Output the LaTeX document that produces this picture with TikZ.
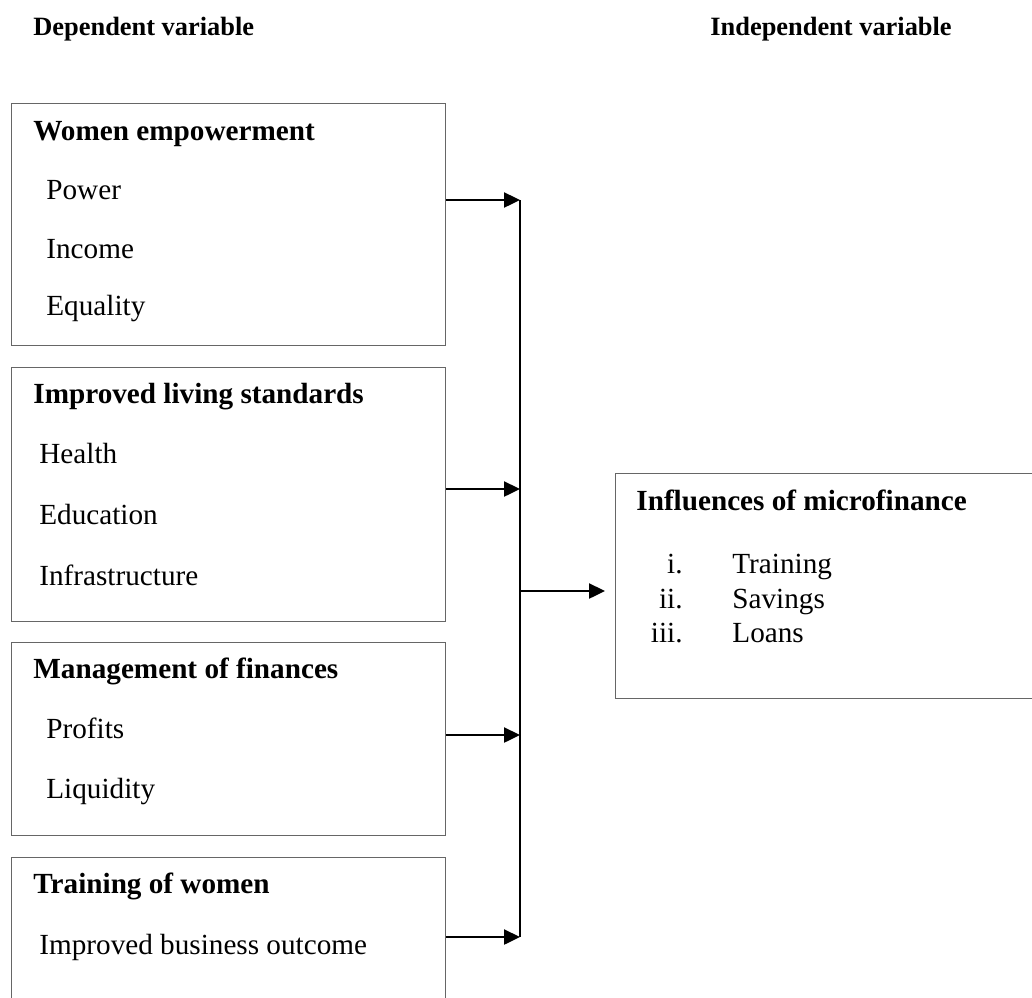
\documentclass[tikz,border=0pt]{standalone}
\usepackage{fontspec}
\setmainfont{Liberation Serif}
\usetikzlibrary{arrows.meta}
\begin{document}
\begin{tikzpicture}[x=0.5pt,y=-0.5pt,
 box/.style={draw=black!60, line width=0.7pt, rectangle, anchor=north west, inner sep=0pt},
 lbl/.style={anchor=base west, inner sep=0pt, font=\fontsize{14.6}{17}\selectfont},
 num/.style={anchor=base east, inner sep=0pt, font=\fontsize{14.6}{17}\selectfont},
 ttl/.style={anchor=base west, inner sep=0pt, font=\fontsize{14.6}{17}\selectfont\bfseries},
 hdr/.style={anchor=base west, inner sep=0pt, font=\fontsize{13.2}{16}\selectfont\bfseries},
 conn/.style={line width=1.2pt, black},
 arr/.style={conn, -{Triangle[length=8pt,width=7.5pt]}}]
\useasboundingbox (0,0) rectangle (1032,997);
\clip (0,0) rectangle (1032,997);
% headers
\node[hdr] (h1) at (33,35) {Dependent variable};
\node[hdr] (h2) at (710,35) {Independent variable};
% boxes
\node[box, minimum width=217pt, minimum height=121pt] (b1) at (11,103) {};
\node[box, minimum width=217pt, minimum height=127pt] (b2) at (11,367) {};
\node[box, minimum width=217pt, minimum height=96.5pt] (b3) at (11,642) {};
\node[box, minimum width=217pt, minimum height=95pt] (b4) at (11,857) {};
\node[box, minimum width=215pt, minimum height=112.5pt] (r) at (615,473) {};
% box 1
\node[ttl] (t1) at (33,140) {Women empowerment};
\node[lbl] (t1a) at (46,199) {Power};
\node[lbl] (t1b) at (46,258) {Income};
\node[lbl] (t1c) at (46,315) {Equality};
% box 2
\node[ttl] (t2) at (33,403) {Improved living standards};
\node[lbl] (t2a) at (39,463) {Health};
\node[lbl] (t2b) at (39,524) {Education};
\node[lbl] (t2c) at (39,585) {Infrastructure};
% box 3
\node[ttl] (t3) at (33,678) {Management of finances};
\node[lbl] (t3a) at (46,738) {Profits};
\node[lbl] (t3b) at (46,798) {Liquidity};
% box 4
\node[ttl] (t4) at (33,893) {Training of women};
\node[lbl] (t4a) at (39,954) {Improved business outcome};
% right box
\node[ttl] (rt) at (636,510) {Influences of microfinance};
\node[num] (n1) at (683,573) {i.};
\node[lbl] (r1) at (732,573) {Training};
\node[num] (n2) at (683,608) {ii.};
\node[lbl] (r2) at (732,608) {Savings};
\node[num] (n3) at (683,642) {iii.};
\node[lbl] (r3) at (732,642) {Loans};
% connectors
\coordinate (j1) at (520,200);
\coordinate (j2) at (520,489);
\coordinate (j3) at (520,735);
\coordinate (j4) at (520,937);
\coordinate (jm) at (520,591);
\draw[arr] (b1.east |- j1) -- (j1);
\draw[arr] (b2.east |- j2) -- (j2);
\draw[arr] (b3.east |- j3) -- (j3);
\draw[arr] (b4.east |- j4) -- (j4);
\draw[conn] (j1) -- (j4);
\draw[arr] (jm) -- ([xshift=-5pt]r.west |- jm);
\end{tikzpicture}
\end{document}
